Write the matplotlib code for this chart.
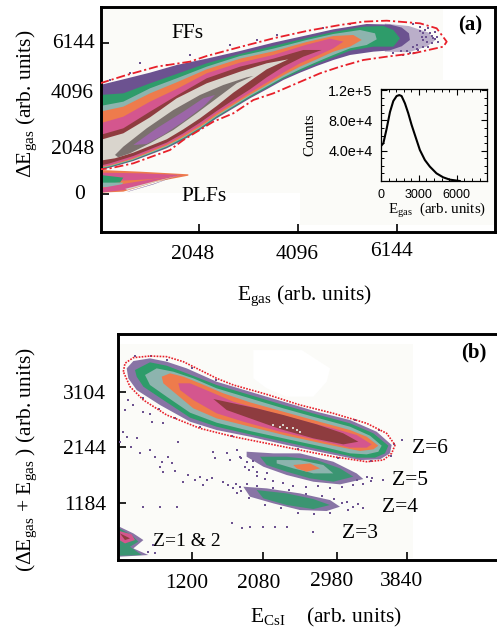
# imports packages
import matplotlib
matplotlib.use("Agg")
import matplotlib.pyplot as plt
from matplotlib.patches import Rectangle, Polygon
from matplotlib.transforms import ScaledTranslation
from matplotlib.ticker import MultipleLocator

plt.rcParams['font.family'] = ['Liberation Serif', 'DejaVu Serif']
plt.rcParams['mathtext.fontset'] = 'custom'
plt.rcParams['mathtext.rm'] = 'Liberation Serif'
plt.rcParams['mathtext.it'] = 'Liberation Serif'
plt.rcParams['mathtext.default'] = 'rm'

# colours of the counts scale, low to high
purple = '#6c5290'
green = '#2e9c6a'
teal = '#8db4ae'
orange = '#ee7b4c'
pink = '#d4568e'
darkred = '#8e3c3f'
lightgray = '#d9d5cd'
greybrown = '#7b716e'
violet = '#9c66a8'
paper = '#fbfbf8'

# panel a, FFs contours
ff0_x = [5900, 6400, 6800, 6950, 6780, 6400, 5900]
ff0_y = [6920, 6820, 6560, 6250, 6000, 5760, 5780]
ff1_x = [0, 480, 1033, 1586, 2207, 2899, 3590, 4280, 4833, 5524, 6008, 6250, 6400, 6420, 6250, 6000, 5663, 5179, 4833, 4488, 4142, 3797, 3451, 3106, 2760, 2415, 2069, 1724, 1378, 687, 204, 0]
ff1_y = [4431, 4661, 4931, 5242, 5498, 5809, 6147, 6444, 6687, 6903, 6880, 6760, 6525, 6255, 6000, 5830, 5782, 5647, 5444, 5201, 4931, 4634, 4255, 3891, 3485, 3080, 2607, 2202, 1864, 1351, 1080, 986]
ff2_x = [0, 480, 1033, 1586, 2207, 2899, 3590, 4280, 4833, 5455, 5870, 6077, 6215, 6077, 5663, 5179, 4833, 4488, 4142, 3797, 3451, 3106, 2760, 2415, 2069, 1724, 1378, 687, 204, 0]
ff2_y = [4026, 4093, 4498, 4877, 5309, 5687, 6012, 6336, 6579, 6795, 6822, 6660, 6322, 5985, 5985, 5823, 5552, 5282, 4998, 4688, 4309, 3931, 3526, 3120, 2648, 2242, 1905, 1378, 1107, 1026]
ff3_x = [0, 480, 1033, 1586, 2207, 2899, 3590, 4280, 4833, 5386, 5697, 5732, 5524, 5179, 4833, 4488, 4142, 3797, 3451, 3106, 2760, 2415, 2069, 1724, 1378, 687, 204, 0]
ff3_y = [3580, 3755, 4296, 4701, 5174, 5606, 5904, 6255, 6498, 6660, 6525, 6282, 6052, 5917, 5647, 5363, 5066, 4742, 4363, 3985, 3566, 3161, 2688, 2283, 1932, 1405, 1134, 1053]
ff4_x = [0, 480, 1033, 1586, 2207, 2899, 3590, 4280, 4833, 5248, 5421, 5179, 4833, 4488, 4142, 3797, 3451, 3106, 2760, 2415, 2069, 1724, 1378, 687, 204, 0]
ff4_y = [3350, 3553, 4093, 4539, 5066, 5498, 5795, 6174, 6417, 6457, 6255, 5985, 5782, 5471, 5174, 4823, 4431, 4039, 3620, 3202, 2729, 2323, 1972, 1432, 1162, 1080]
ff5_x = [0, 480, 1033, 1586, 2207, 2899, 3590, 4280, 4764, 5041, 4833, 4488, 4142, 3797, 3451, 3106, 2760, 2415, 2069, 1724, 1378, 687, 204, 0]
ff5_y = [2877, 3147, 3755, 4269, 4904, 5336, 5647, 6066, 6309, 6187, 5917, 5606, 5309, 4931, 4525, 4120, 3701, 3283, 2796, 2391, 2026, 1472, 1188, 1121]
ff6_x = [0, 480, 1033, 1586, 2207, 2899, 3590, 4211, 4591, 4211, 3797, 3451, 3106, 2760, 2415, 2069, 1724, 1378, 687, 204, 0]
ff6_y = [2404, 2675, 3350, 4000, 4701, 5174, 5498, 5850, 5850, 5579, 5174, 4742, 4255, 3823, 3377, 2904, 2472, 2094, 1553, 1256, 1162]
ff7_x = [0, 480, 1033, 1586, 2207, 2899, 3451, 3900, 3451, 3106, 2760, 2415, 2069, 1724, 1378, 687, 307, 0]
ff7_y = [2202, 2472, 3120, 3890, 4498, 4971, 5309, 5471, 5066, 4593, 4120, 3580, 3080, 2634, 2229, 1688, 1459, 1364]
ff8_x = [307, 480, 964, 1517, 2069, 2553, 3037, 3175, 2829, 2415, 1999, 1517, 1033, 618, 376]
ff8_y = [1594, 1932, 2675, 3418, 4026, 4431, 4742, 4796, 4498, 3891, 3283, 2607, 2067, 1661, 1499]
ff9_x = [687, 1171, 1724, 2138, 2380, 2138, 1724, 1309, 964]
ff9_y = [1999, 2675, 3350, 3891, 4026, 3553, 2945, 2404, 2040]

# panel a, PLFs contours
plf1_x = [0, 826, 1827, 1827, 1171, 480, 0]
plf1_y = [986, 918, 810, 756, 513, 108, 67]
plf2_x = [0, 826, 1690, 1033, 0]
plf2_y = [878, 851, 783, 608, 513]
plf3_x = [0, 480, 411, 0]
plf3_y = [783, 675, 473, 419]
plf4_x = [0, 480, 411, 0]
plf4_y = [473, 473, 311, 284]
plf5_x = [0, 550, 1350, 1750, 1200, 500, 0]
plf5_y = [243, 445, 689, 783, 581, 175, 67]
plf7_x = [550, 1100, 1600, 1100, 600]
plf7_y = [90, 400, 760, 420, 130]
plf6_x = [520, 1102, 1650, 1100, 560]
plf6_y = [222, 513, 770, 473, 175]

# panel a, gate and stray counts
gate_a_x = [0, 480, 1171, 1862, 2207, 2899, 3590, 4280, 4972, 5455, 5939, 6630, 6975, 7183, 7114, 6492, 5939, 5455, 4972, 4557, 4073, 3590, 3175, 2760, 2346, 1724, 1447, 687, 204, 0]
gate_a_y = [4500, 4796, 5174, 5377, 5606, 5971, 6322, 6620, 6863, 6998, 7038, 6930, 6728, 6187, 5985, 5714, 5579, 5444, 5174, 4904, 4498, 4093, 3823, 3283, 2945, 2202, 1796, 1256, 1053, 1013]
stray_a_x = [6630, 6734, 6837, 6941, 6975, 6768, 6872, 6699, 6561, 6423, 6284, 6077, 6803, 6664, 7010, 6492, 6906, 6595, 6699, 6803, 6700, 6560, 6880, 6480, 6350, 6620, 6750, 6950, 6500, 6230, 826, 1862, 1378, 618, 204, 2691, 3659, 4626, 5179, 3244]
stray_a_y = [6795, 6660, 6525, 6592, 6390, 6187, 6120, 5985, 5877, 5741, 5647, 5714, 6728, 6390, 6187, 6903, 6322, 5850, 6525, 5985, 6270, 6060, 6400, 5960, 5820, 6620, 6380, 6310, 5730, 5790, 5309, 5647, 5242, 4904, 4634, 6052, 6457, 6728, 6903, 6255]

# panel a, inset spectrum
spec_x = [0, 184, 447, 710, 973, 1236, 1447, 1630, 1894, 2157, 2420, 2683, 3077, 3472, 3866, 4392, 4918, 5444, 6233]
spec_y = [46200, 49700, 69000, 91000, 105500, 112100, 113400, 112100, 102500, 89400, 74100, 60800, 40900, 27700, 19000, 10100, 4900, 1800, 0]

# panel b, Z=6 contours
z6a_x = [402, 484, 688, 893, 1139, 1507, 1916, 2326, 2735, 3144, 3472, 3656, 3635, 3513, 3267, 2858, 2367, 1916, 1507, 1180, 811, 525, 422]
z6a_y = [3508, 3635, 3681, 3623, 3508, 3277, 3104, 2931, 2758, 2614, 2412, 2182, 2038, 1934, 1922, 2038, 2182, 2326, 2441, 2585, 2874, 3133, 3335]
z6b_x = [504, 688, 893, 1139, 1507, 1916, 2326, 2735, 3144, 3431, 3615, 3574, 3451, 3226, 2858, 2367, 1916, 1507, 1180, 852, 607, 525]
z6b_y = [3479, 3612, 3554, 3422, 3220, 3047, 2874, 2712, 2557, 2384, 2170, 2038, 1963, 1963, 2078, 2228, 2366, 2499, 2655, 2960, 3191, 3364]
z6c_x = [627, 770, 975, 1220, 1507, 1916, 2326, 2735, 3144, 3390, 3533, 3492, 3349, 3144, 2858, 2367, 1916, 1507, 1180, 893, 688]
z6c_y = [3393, 3508, 3450, 3335, 3162, 2989, 2816, 2655, 2499, 2343, 2170, 2066, 2020, 2038, 2136, 2285, 2424, 2568, 2741, 3018, 3220]
z6d_x = [832, 934, 1098, 1302, 1589, 1916, 2326, 2735, 3144, 3349, 3492, 3431, 3267, 2858, 2367, 1916, 1507, 1220, 975, 852]
z6d_y = [3364, 3422, 3364, 3249, 3076, 2920, 2758, 2597, 2441, 2326, 2170, 2107, 2078, 2193, 2343, 2499, 2643, 2816, 3104, 3249]
z6e_x = [1036, 1180, 1425, 1712, 2121, 2530, 2939, 3226, 3410, 3349, 3144, 2735, 2285, 1835, 1507, 1220, 1057]
z6e_y = [3249, 3249, 3104, 2931, 2770, 2614, 2470, 2355, 2193, 2136, 2136, 2268, 2412, 2585, 2730, 2960, 3133]
z6f_x = [1466, 1712, 1998, 2326, 2735, 3062, 3247, 3062, 2694, 2285, 1916, 1630]
z6f_y = [2978, 2903, 2816, 2701, 2539, 2384, 2239, 2193, 2297, 2459, 2643, 2787]

# panel b, Z=5 contours
z5a_x = [1875, 2203, 2530, 2939, 3226, 3308, 3021, 2694, 2367, 2080, 1875]
z5a_y = [2066, 2038, 2038, 1893, 1691, 1593, 1501, 1547, 1663, 1807, 1980]
z5b_x = [2039, 2367, 2735, 3021, 3185, 2939, 2653, 2367, 2121]
z5b_y = [1980, 1980, 1922, 1778, 1634, 1547, 1605, 1720, 1836]
z5c_x = [2244, 2530, 2817, 2939, 2694, 2448, 2244]
z5c_y = [1922, 1922, 1836, 1691, 1691, 1778, 1864]
z5d_x = [2448, 2653, 2776, 2612, 2489]
z5d_y = [1836, 1864, 1778, 1720, 1778]

# panel b, Z=4 contours
z4a_x = [1834, 2121, 2530, 2899, 3021, 2858, 2530, 2203, 1916]
z4a_y = [1461, 1432, 1345, 1230, 1115, 1040, 1057, 1172, 1288]
z4b_x = [1998, 2367, 2694, 2899, 2694, 2367, 2080]
z4b_y = [1403, 1345, 1247, 1144, 1074, 1144, 1259]

# panel b, Z=1 & 2 contours
z1a_x = [312, 484, 607, 484, 668, 312]
z1a_y = [769, 653, 538, 394, 279, 250]
z1b_x = [312, 463, 545, 443, 586, 312]
z1b_y = [740, 625, 510, 423, 279, 267]
z1c_x = [312, 463, 504, 381, 312]
z1c_y = [694, 636, 538, 480, 538]
z1d_x = [320, 443, 381]
z1d_y = [653, 567, 538]

# panel b, gate and stray counts
gate_b_x = [361, 381, 484, 688, 893, 1098, 1302, 1507, 1712, 2121, 2530, 2939, 3349, 3594, 3697, 3656, 3553, 3349, 2939, 2530, 2121, 1712, 1302, 893, 607, 443, 361]
gate_b_y = [3450, 3595, 3693, 3721, 3710, 3623, 3479, 3335, 3220, 3058, 2874, 2730, 2557, 2384, 2182, 2038, 1922, 1893, 1980, 2095, 2211, 2326, 2470, 2701, 2960, 3191, 3450]
stray_b_x = [422, 484, 381, 607, 688, 709, 852, 361, 410, 320, 525, 451, 688, 566, 750, 832, 913, 954, 1036, 811, 852, 995, 1159, 1241, 1302, 1384, 1446, 1098, 1343, 1589, 1650, 1712, 1794, 1753, 1466, 1487, 1630, 1671, 1753, 1794, 1875, 1957, 1998, 2121, 3349, 3410, 3553, 3226, 3103, 3185, 3247, 3308, 3124, 607, 811, 1016, 1691, 1814, 1916, 2080, 2223, 2367, 2694, 3779, 729, 750, 668,
             2000, 2100, 2200, 2320, 2450, 2600, 2750, 2900, 3050, 3180, 3300, 3400, 1800, 1850, 1900, 1950,
             1750, 1880, 2000, 2200, 2400, 2600, 2800, 2950, 3050, 1800, 1900, 2100, 2300, 2500, 2700, 2900,
             500, 700, 900, 1200, 1500, 600, 800, 1000, 1300, 1700, 2500, 3000, 3400, 3650, 3680, 3500, 3200]
stray_b_y = [2960, 2874, 2787, 2747, 2712, 2585, 2557, 2412, 2326, 2239, 2297, 2153, 2095, 2038, 1980, 1893, 1980, 1864, 2239, 1807, 1720, 1732, 1663, 1576, 1634, 1576, 1605, 1547, 1490, 1547, 1490, 1432, 1461, 1345, 2066, 1951, 2038, 1922, 2095, 1980, 1893, 1807, 1720, 1691, 1634, 1605, 1576, 1576, 1201, 1115, 1155, 1086, 1057, 1115, 1115, 1115, 838, 740, 769, 769, 757, 769, 671, 2268, 452, 307, 336,
             1650, 1600, 1560, 1530, 1480, 1460, 1470, 1440, 1450, 1490, 1500, 1560, 1960, 1800, 1750, 1900,
             1500, 1510, 1470, 1430, 1400, 1340, 1300, 1250, 1180, 1380, 1260, 1150, 1090, 1010, 990, 1000,
             3720, 3720, 3660, 3520, 3310, 3000, 2800, 2650, 2500, 2340, 2110, 1960, 1900, 2000, 2200, 2450, 2620]
hot_b_x = [2203, 2285, 2367, 2448, 2530, 2326, 2489]
hot_b_y = [2528, 2500, 2470, 2470, 2412, 2528, 2441]

# tick labels
ticks_a_x = [2048, 4096, 6144]
ticks_a_y = [0, 2048, 4096, 6144]
ticks_b_x = [1200, 2080, 2980, 3840]
ticks_b_y = [1184, 2144, 3104]

W, H = 497, 630

# gets axes from pixel box
def boxAxes(fig, left, top, right, bottom):
    return fig.add_axes([left / W, 1 - bottom / H, (right - left) / W, (bottom - top) / H])

# moves a tick label by pixels
def nudge(fig, lab, dx, dy):
    lab.set_transform(lab.get_transform() + ScaledTranslation(dx / 100, -dy / 100, fig.dpi_scale_trans))

fig = plt.figure(figsize=(W / 100, H / 100), dpi=100)

# panel a
ax = boxAxes(fig, 101, 7, 495, 232)
ax.set_xlim(17, 8184)
ax.set_ylim(-1528, 7592)
ax.add_patch(Rectangle((17, 53), 7089, 7540, fc=paper, ec='none', zorder=0))
ax.add_patch(Rectangle((4140, -1244), 4040, 5877, fc=paper, ec='none', zorder=0))

# thin tail under the filled contours
ax.fill(ff0_x, ff0_y, color=purple, alpha=0.45, lw=0, zorder=2)

ff_levels = [(ff1_x, ff1_y, purple), (ff2_x, ff2_y, green), (ff3_x, ff3_y, teal), (ff4_x, ff4_y, orange),
             (ff5_x, ff5_y, pink), (ff6_x, ff6_y, darkred), (ff7_x, ff7_y, lightgray), (ff8_x, ff8_y, greybrown),
             (ff9_x, ff9_y, violet)]
for xs, ys, c in ff_levels:
    ax.fill(xs, ys, color=c, lw=0, zorder=2)

plf_levels = [(plf1_x, plf1_y, orange), (plf2_x, plf2_y, pink), (plf3_x, plf3_y, green), (plf4_x, plf4_y, teal),
              (plf5_x, plf5_y, pink), (plf7_x, plf7_y, purple), (plf6_x, plf6_y, lightgray)]
for xs, ys, c in plf_levels:
    ax.fill(xs, ys, color=c, lw=0, zorder=2)

ax.scatter(stray_a_x, stray_a_y, s=1.4, marker='s', c=purple, linewidths=0, zorder=3)
ax.plot(gate_a_x, gate_a_y, color='#e8202a', lw=1.3, ls=(0, (5, 1.6, 1.2, 1.6)), zorder=4)

ax.set_xticks(ticks_a_x, [str(t) for t in ticks_a_x])
ax.set_yticks(ticks_a_y, [str(t) for t in ticks_a_y])
ax.tick_params(axis='both', direction='in', length=6, width=1.2, labelsize=15.5, pad=8)
ax.tick_params(axis='y', pad=4.5)
for lab, dx, dy in zip(ax.get_xticklabels(), [-6, -1, -5], [2, 2, -1]):
    nudge(fig, lab, dx, dy)
for lab, dx, dy in zip(ax.get_yticklabels(), [-10, 0, -1, 0], [-2, 3, -2, -2]):
    nudge(fig, lab, dx, dy)
for s in ax.spines.values():
    s.set_linewidth(2.1)

ax.set_xlabel(r'E$_{gas}$ (arb. units)', fontsize=15.5, va='baseline')
ax.xaxis.set_label_coords(0.515, -0.302)
ax.set_ylabel(r'$\Delta$E$_{gas}$ (arb. units)', fontsize=15.5, va='center')
ax.yaxis.set_label_coords(-0.188, 0.569)

ax.text(1820, 6538, 'FFs', fontsize=15.5, ha='center', va='center')
ax.text(2150, -70, 'PLFs', fontsize=15.5, ha='center', va='center')
ax.text(0.936, 0.92, '(a)', fontsize=15, fontweight='bold', ha='center', va='center', transform=ax.transAxes)

# inset
ins = boxAxes(fig, 381, 89.3, 487, 181)
ins.patch.set_alpha(0)
ins.plot(spec_x, spec_y, color='k', lw=1.5)
ins.set_xlim(0, 8390)
ins.set_ylim(0, 121000)
ins.set_xticks([0, 3000, 6000])
ins.set_yticks([40000, 80000, 120000], ['4.0e+4', '8.0e+4', '1.2e+5'])
ins.xaxis.set_minor_locator(MultipleLocator(600))
ins.yaxis.set_minor_locator(MultipleLocator(10000))
ins.tick_params(which='major', direction='in', length=4, width=0.8, top=True, right=True, pad=6)
ins.tick_params(which='minor', direction='in', length=2, width=0.7, top=True, right=True)
for lab in ins.get_yticklabels():
    lab.set_family(['Liberation Sans'])
    lab.set_fontsize(10.4)
for lab in ins.get_xticklabels():
    lab.set_family(['Liberation Sans'])
    lab.set_fontsize(9)
for s in ins.spines.values():
    s.set_linewidth(0.9)
ins.set_xlabel(r'E$_{gas}$  (arb. units)', fontsize=10.8, va='baseline')
ins.xaxis.set_label_coords(0.53, -0.36)
ins.set_ylabel('Counts', fontsize=10.8, va='center')
ins.yaxis.set_label_coords(-0.67, 0.5)

# panel b
bx = boxAxes(fig, 118.3, 334.3, 500, 560)
bx.set_xlim(299, 4986)
bx.set_ylim(193, 4097)
bx.add_patch(Rectangle((319, 227), 3599, 3703, fc=paper, ec='none', zorder=0))
bx.add_patch(Polygon(list(zip([1957, 2551, 2899, 2858, 2694, 2367, 2121, 1957], [3825, 3825, 3508, 3277, 3018, 3018, 3162, 3335])), fc='white', ec='none', zorder=1))

z_levels = [(z5a_x, z5a_y, purple, 0.8), (z5b_x, z5b_y, green, 0.85), (z5c_x, z5c_y, teal, 1), (z5d_x, z5d_y, orange, 1),
            (z4a_x, z4a_y, purple, 0.8), (z4b_x, z4b_y, green, 0.85),
            (z1a_x, z1a_y, purple, 0.8), (z1b_x, z1b_y, green, 0.85), (z1c_x, z1c_y, pink, 1), (z1d_x, z1d_y, darkred, 1),
            (z6a_x, z6a_y, purple, 0.8), (z6b_x, z6b_y, green, 1), (z6c_x, z6c_y, teal, 1), (z6d_x, z6d_y, orange, 1),
            (z6e_x, z6e_y, pink, 1), (z6f_x, z6f_y, darkred, 1)]
for xs, ys, c, a in z_levels:
    bx.fill(xs, ys, color=c, alpha=a, lw=0, zorder=2)

bx.scatter(stray_b_x, stray_b_y, s=1.6, marker='s', c=purple, linewidths=0, zorder=3)
bx.scatter(hot_b_x, hot_b_y, s=1.6, marker='s', c=lightgray, linewidths=0, zorder=3)
bx.plot(gate_b_x, gate_b_y, color='#e8202a', lw=1.2, ls=(0, (1, 0.8)), zorder=4)

bx.set_xticks(ticks_b_x, [str(t) for t in ticks_b_x])
bx.set_yticks(ticks_b_y, [str(t) for t in ticks_b_y])
bx.tick_params(axis='both', direction='in', length=6, width=1.2, labelsize=15.5, pad=9)
for lab, dy in zip(bx.get_xticklabels(), [2, 2, 0, 0]):
    nudge(fig, lab, -5, dy)
for s in bx.spines.values():
    s.set_linewidth(2.1)

bx.set_xlabel(r'E$_{CsI}$    (arb. units)', fontsize=15.5, va='baseline')
bx.xaxis.set_label_coords(0.544, -0.279)
bx.set_ylabel(r'($\Delta$E$_{gas}$ + E$_{gas}$ ) (arb. units)', fontsize=15.5, va='center')
bx.yaxis.set_label_coords(-0.241, 0.447)

bx.text(4126, 2130, 'Z=6', fontsize=15.5, ha='center', va='center')
bx.text(3880, 1560, 'Z=5', fontsize=15.5, ha='center', va='center')
bx.text(3757, 1095, 'Z=4', fontsize=15.5, ha='center', va='center')
bx.text(3267, 660, 'Z=3', fontsize=15.5, ha='center', va='center')
bx.text(1142, 520, 'Z=1 & 2', fontsize=14, ha='center', va='center')
bx.text(0.931, 0.92, '(b)', fontsize=15, fontweight='bold', ha='center', va='center', transform=bx.transAxes)

plt.savefig('out.png', dpi=100)
